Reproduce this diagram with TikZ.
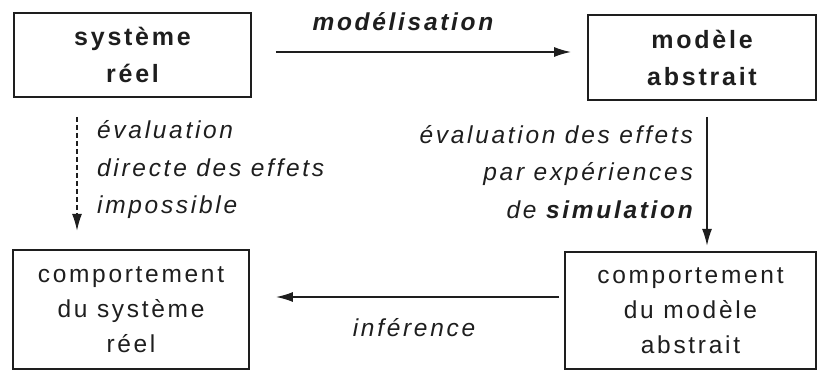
\documentclass[tikz,border=0pt]{standalone}
\usepackage{fontspec}
\setmainfont[LetterSpace=11]{Liberation Sans}
\usetikzlibrary{arrows.meta}
\definecolor{ink}{HTML}{1E1E1E}
\tikzset{
  box/.style={draw=ink,line width=1.8pt,rectangle,inner sep=0pt,align=center,text=ink,
    font=\fontsize{24.5}{35}\selectfont},
  lbl/.style={text=ink,inner sep=0pt,font=\fontsize{24.5}{37.5}\selectfont\itshape},
  arr/.style={draw=ink,line width=1.6pt,-{Latex[length=17pt,width=10pt]}}
}
\begin{document}
\begin{tikzpicture}[x=1pt,y=-1pt]
\useasboundingbox (0,0) rectangle (818,371);
\node[box,minimum width=237pt,minimum height=84pt,font=\fontsize{25}{37}\selectfont\bfseries] (b1) at (132.5,55) {système\\réel};
\node[box,minimum width=228pt,minimum height=85pt,font=\fontsize{25}{37}\selectfont\bfseries] (b2) at (702,57.5) {modèle\\abstrait};
\node[box,minimum width=236pt,minimum height=119pt] (b3) at (131,309.5) {comportement\\du système\\réel};
\node[box,minimum width=251pt,minimum height=117pt] (b4) at (690.5,310.5) {comportement\\du modèle\\abstrait};
\draw[arr,shorten <=24pt,shorten >=16pt] (b1.east |- 0,52) -- (b2.west |- 0,52);
\node[lbl,font=\fontsize{24.5}{28}\selectfont\bfseries\itshape] (m) at (403,22) {modélisation};
\draw[arr,dashed,dash pattern=on 5pt off 3pt] (b1.south) ++(-55.5,19) -- ++(0,114);
\node[lbl,anchor=west,align=left] (l1) at (97,170) {évaluation\\directe des effets\\impossible};
\draw[arr] (b2.south) ++(5,16) -- ++(0,129);
\node[lbl,anchor=east,align=right] (l2) at (693,172) {évaluation des effets\\par expériences\\de \textbf{simulation}};
\draw[arr,shorten <=5pt,shorten >=26pt] (b4.west |- 0,297) -- (b3.east |- 0,297);
\node[lbl] (inf) at (414,328) {inférence};
\end{tikzpicture}
\end{document}
